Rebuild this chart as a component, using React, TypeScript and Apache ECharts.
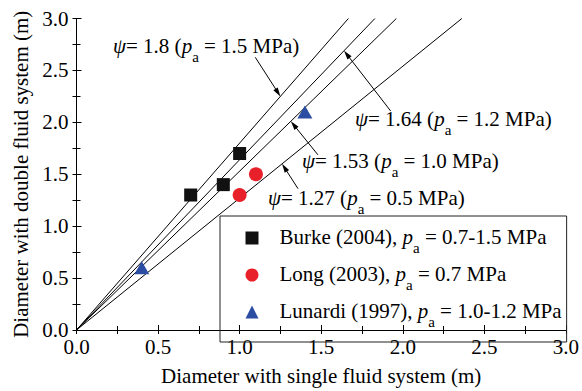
import React, { useEffect, useRef } from 'react';
import * as echarts from 'echarts';

// ---- data ----
const axisMin = 0;
const axisMax = 3;
const axisStep = 0.5;
const xTickLabels = ['0.0', '0.5', '1.0', '1.5', '2.0', '2.5', '3.0'];
const yTickLabels = ['0.0', '0.5', '1.0', '1.5', '2.0', '2.5', '3.0'];

const psiValues = [1.8, 1.64, 1.53, 1.27];
const psiPressures = ['1.5', '1.2', '1.0', '0.5'];

const burkeData = [[0.7, 1.3], [0.9, 1.4], [1.0, 1.7]];
const longData = [[1.0, 1.3], [1.1, 1.5]];
const lunardiData = [[0.4, 0.6], [1.4, 2.1]];

const seriesNames = ['Burke', 'Long', 'Lunardi'];
const legendLabels = [
  '{g| }{n|Burke (2004), }{i|p}{s|a}{n| = 0.7-1.5 MPa}',
  '{g| }{n|Long (2003), }{i|p}{s|a}{n| = 0.7 MPa}',
  '{g| }{n|Lunardi (1997), }{i|p}{s|a}{n| = 1.0-1.2 MPa}',
];

// arrow tails / heads in data coordinates
const arrowTails = [[1.096, 2.626], [1.926, 2.109], [1.48, 1.687], [1.358, 1.361]];
const arrowHeads = [[1.25, 2.25], [1.64, 2.69], [1.314, 2.01], [1.26, 1.6]];

// ---- layout ----
const FONT = 'Liberation Serif';
const labelPos = [[113, 47], [355, 120.5], [302, 162], [268, 199]];

const richStyles = {
  n: { fontFamily: FONT, fontSize: 21, lineHeight: 24, verticalAlign: 'top', color: '#000' },
  i: { fontFamily: FONT, fontSize: 21, fontStyle: 'italic', lineHeight: 24, verticalAlign: 'top', color: '#000' },
  s: { fontFamily: FONT, fontSize: 15, lineHeight: 24, verticalAlign: 'top', padding: [14, 0, 0, 0], color: '#000' },
  g: { fontFamily: FONT, fontSize: 21, lineHeight: 24, verticalAlign: 'top', width: 16 },
};

export default function App() {
  const ref = useRef<HTMLDivElement>(null);
  useEffect(() => {
    if (!ref.current) return;
    const chart = echarts.init(ref.current, undefined, { renderer: 'svg' });

    const lineSeries = psiValues.map((psi, k) => ({
      type: 'line',
      name: 'psi' + k,
      data: [[0, 0], [axisMax / psi, axisMax]],
      symbol: 'none',
      silent: true,
      lineStyle: { color: '#000', width: 1 },
      z: 2,
    }));

    const arrowSeries = {
      type: 'custom',
      name: 'arrows',
      silent: true,
      z: 3,
      encode: { x: [0, 2], y: [1, 3] },
      data: arrowTails.map((t, k) => [t[0], t[1], arrowHeads[k][0], arrowHeads[k][1]]),
      renderItem: (params: any, api: any) => {
        const t = api.coord([api.value(0), api.value(1)]);
        const h = api.coord([api.value(2), api.value(3)]);
        const dx = h[0] - t[0];
        const dy = h[1] - t[1];
        const len = Math.hypot(dx, dy) || 1;
        const ux = dx / len;
        const uy = dy / len;
        const L = 9;
        const W = 2.6;
        const bx = h[0] - ux * L;
        const by = h[1] - uy * L;
        return {
          type: 'group',
          children: [
            {
              type: 'line',
              shape: { x1: t[0], y1: t[1], x2: bx + ux * 2, y2: by + uy * 2 },
              style: { stroke: '#000', lineWidth: 1 },
            },
            {
              type: 'polygon',
              shape: { points: [[h[0], h[1]], [bx - uy * W, by + ux * W], [bx + uy * W, by - ux * W]] },
              style: { fill: '#000', stroke: 'none' },
            },
          ],
        };
      },
    };

    const annotation = psiValues.map((psi, k) => ({
      type: 'text',
      x: labelPos[k][0],
      y: labelPos[k][1],
      silent: true,
      style: {
        text: `{i|ψ}{n|= ${psi} (}{i|p}{s|a}{n| = ${psiPressures[k]} MPa)}`,
        rich: richStyles,
        fontFamily: FONT,
        fontSize: 21,
        align: 'left',
        verticalAlign: 'middle',
        fill: '#000',
      },
    }));

    const labelFmt = (arr: string[]) => (v: number) => {
      const idx = Math.round((v - axisMin) / axisStep);
      return arr[idx] ?? '';
    };

    const tickLabelStyle = { color: '#000', fontFamily: FONT, fontSize: 21, fontWeight: 'normal' };
    const nameStyle = { color: '#000', fontFamily: FONT, fontSize: 21, fontWeight: 'normal' };

    chart.setOption({
      animation: false,
      textStyle: { fontFamily: FONT },
      grid: { left: 76.5, right: 14, top: 18.5, bottom: 60, containLabel: false },
      legend: {
        orient: 'vertical',
        left: 220,
        top: 216,
        padding: [10, 5, 13, 25.5],
        itemGap: 8,
        itemWidth: 13,
        itemHeight: 13,
        borderColor: '#222',
        borderWidth: 1,
        selectedMode: false,
        data: [
          { name: seriesNames[0], icon: 'rect' },
          { name: seriesNames[1], icon: 'circle' },
          { name: seriesNames[2], icon: 'triangle' },
        ],
        formatter: (name: string) => legendLabels[seriesNames.indexOf(name)],
        textStyle: { fontFamily: FONT, fontSize: 21, color: '#000', rich: richStyles },
      },
      xAxis: [
        {
          type: 'value',
          min: axisMin,
          max: axisMax,
          interval: axisStep,
          name: 'Diameter with single fluid system (m)',
          nameLocation: 'middle',
          nameGap: 35,
          nameTextStyle: nameStyle,
          axisLine: { lineStyle: { color: '#000', width: 1 } },
          axisTick: { inside: true, length: 5, lineStyle: { color: '#000' } },
          minorTick: { show: true, splitNumber: 2, length: 4, lineStyle: { color: '#000' } },
          axisLabel: { ...tickLabelStyle, margin: 6, formatter: labelFmt(xTickLabels) },
          splitLine: { show: false },
        },
        {
          type: 'value',
          position: 'top',
          min: axisMin,
          max: axisMax,
          interval: axisStep / 2,
          axisLine: { lineStyle: { color: '#000', width: 1 } },
          axisTick: { inside: true, length: 4, lineStyle: { color: '#000' } },
          axisLabel: { show: false },
          splitLine: { show: false },
        },
      ],
      yAxis: [
        {
          type: 'value',
          min: axisMin,
          max: axisMax,
          interval: axisStep,
          name: 'Diameter with double fluid system (m)',
          nameLocation: 'middle',
          nameGap: 42,
          nameTextStyle: nameStyle,
          axisLine: { lineStyle: { color: '#000', width: 1 } },
          axisTick: { inside: true, length: 5, lineStyle: { color: '#000' } },
          minorTick: { show: true, splitNumber: 2, length: 4, lineStyle: { color: '#000' } },
          axisLabel: { ...tickLabelStyle, margin: 8, formatter: labelFmt(yTickLabels) },
          splitLine: { show: false },
        },
        {
          type: 'value',
          position: 'right',
          min: axisMin,
          max: axisMax,
          interval: axisStep / 2,
          axisLine: { lineStyle: { color: '#000', width: 1 } },
          axisTick: { inside: true, length: 4, lineStyle: { color: '#000' } },
          axisLabel: { show: false },
          splitLine: { show: false },
        },
      ],
      series: [
        ...lineSeries,
        arrowSeries,
        {
          type: 'scatter',
          name: seriesNames[0],
          data: burkeData,
          symbol: 'rect',
          symbolSize: 13,
          itemStyle: { color: '#111', opacity: 1 },
          z: 5,
        },
        {
          type: 'scatter',
          name: seriesNames[1],
          data: longData,
          symbol: 'circle',
          symbolSize: 14,
          itemStyle: { color: '#e8202a', opacity: 1 },
          z: 5,
        },
        {
          type: 'scatter',
          name: seriesNames[2],
          data: lunardiData,
          symbol: 'triangle',
          symbolSize: [15, 13],
          itemStyle: { color: '#2b4ea2', opacity: 1 },
          z: 5,
        },
      ],
      graphic: annotation,
    });

    return () => chart.dispose();
  }, []);

  return (
    <div
      ref={ref}
      style={{ position: 'fixed', left: 0, top: 0, width: 582, height: 391, background: '#fff' }}
    />
  );
}
